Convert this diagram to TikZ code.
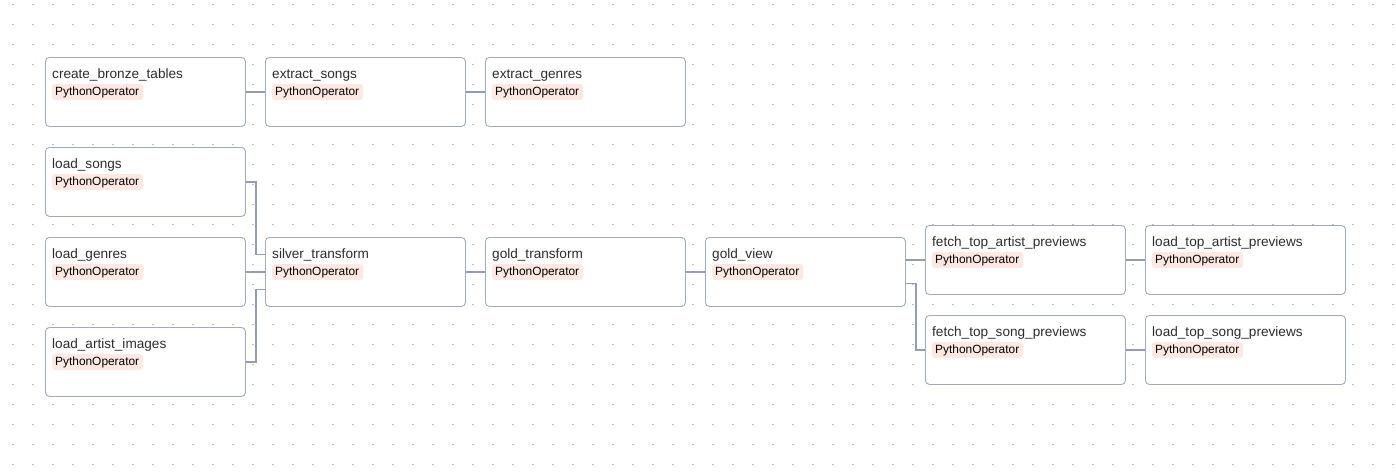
\documentclass[tikz,border=0pt]{standalone}
\usepackage{fontspec}
\setmainfont{Liberation Sans}
\definecolor{boxc}{RGB}{160,172,190}
\definecolor{edgec}{RGB}{145,157,178}
\definecolor{badgec}{RGB}{254,232,226}
\definecolor{dotc}{RGB}{190,190,190}
\definecolor{titlec}{RGB}{45,45,45}
\tikzset{
  task/.style={draw=boxc, line width=0.9pt, fill=white, rounded corners=4pt,
    minimum width=200pt, minimum height=69pt, inner sep=0pt, anchor=north west},
  tasktitle/.style={anchor=base west, inner sep=0pt, text=titlec,
    font=\fontsize{13.6}{16}\selectfont},
  badge/.style={anchor=base west, inner sep=0pt, text=black,
    font=\fontsize{11.9}{14}\selectfont},
  badgebg/.style={fill=badgec, rounded corners=3pt},
  edge/.style={draw=edgec, line width=1.6pt}
}
\newcommand{\mytask}[4]{%
  \node[task] (#1) at (#2,#3) {};
  \fill[badgebg] ([xshift=7pt,yshift=-27pt]#1.north west) rectangle ([xshift=98pt,yshift=-43pt]#1.north west);
  \node[tasktitle] (#1-t) at ([xshift=7pt,yshift=-21.5pt]#1.north west) {#4};
  \node[badge] (#1-b) at ([xshift=10pt,yshift=-38.5pt]#1.north west) {PythonOperator};
}
\begin{document}
\begin{tikzpicture}[x=1pt,y=-1pt]
\useasboundingbox[fill=white] (0,0) rectangle (1396,472);
\foreach \i in {0,...,69} {
  \foreach \j in {0,...,23} {
    \fill[dotc] ({12.2+20*\i},{3.5+20*\j}) rectangle ++(1.6,1.1);
  }
}
% edges first (under boxes)
\mytask{cbt}{45}{57}{create\_bronze\_tables}
\mytask{es}{265}{57}{extract\_songs}
\mytask{eg}{485}{57}{extract\_genres}
\mytask{ls}{45}{147}{load\_songs}
\mytask{lg}{45}{237}{load\_genres}
\mytask{lai}{45}{327}{load\_artist\_images}
\mytask{st}{265}{237}{silver\_transform}
\mytask{gt}{485}{237}{gold\_transform}
\mytask{gv}{705}{237}{gold\_view}
\mytask{fa}{925}{225}{fetch\_top\_artist\_previews}
\mytask{fs}{925}{315}{fetch\_top\_song\_previews}
\mytask{la}{1145}{225}{load\_top\_artist\_previews}
\mytask{lsp}{1145}{315}{load\_top\_song\_previews}

\draw[edge] (cbt.east) -- (es.west);
\draw[edge] (es.east) -- (eg.west);
\draw[edge] (ls.east) -- ++(10,0) |- ([yshift=17.5pt]st.west);
\draw[edge] (lg.east) -- (st.west);
\draw[edge] (lai.east) -- ++(10,0) |- ([yshift=-17.5pt]st.west);
\draw[edge] (st.east) -- (gt.west);
\draw[edge] (gt.east) -- (gv.west);
\draw[edge] (gv.east |- fa.west) -- (fa.west);
\draw[edge] ([yshift=-11.5pt]gv.east) -- ++(10,0) |- (fs.west);
\draw[edge] (fa.east) -- (la.west);
\draw[edge] (fs.east) -- (lsp.west);
\end{tikzpicture}
\end{document}
